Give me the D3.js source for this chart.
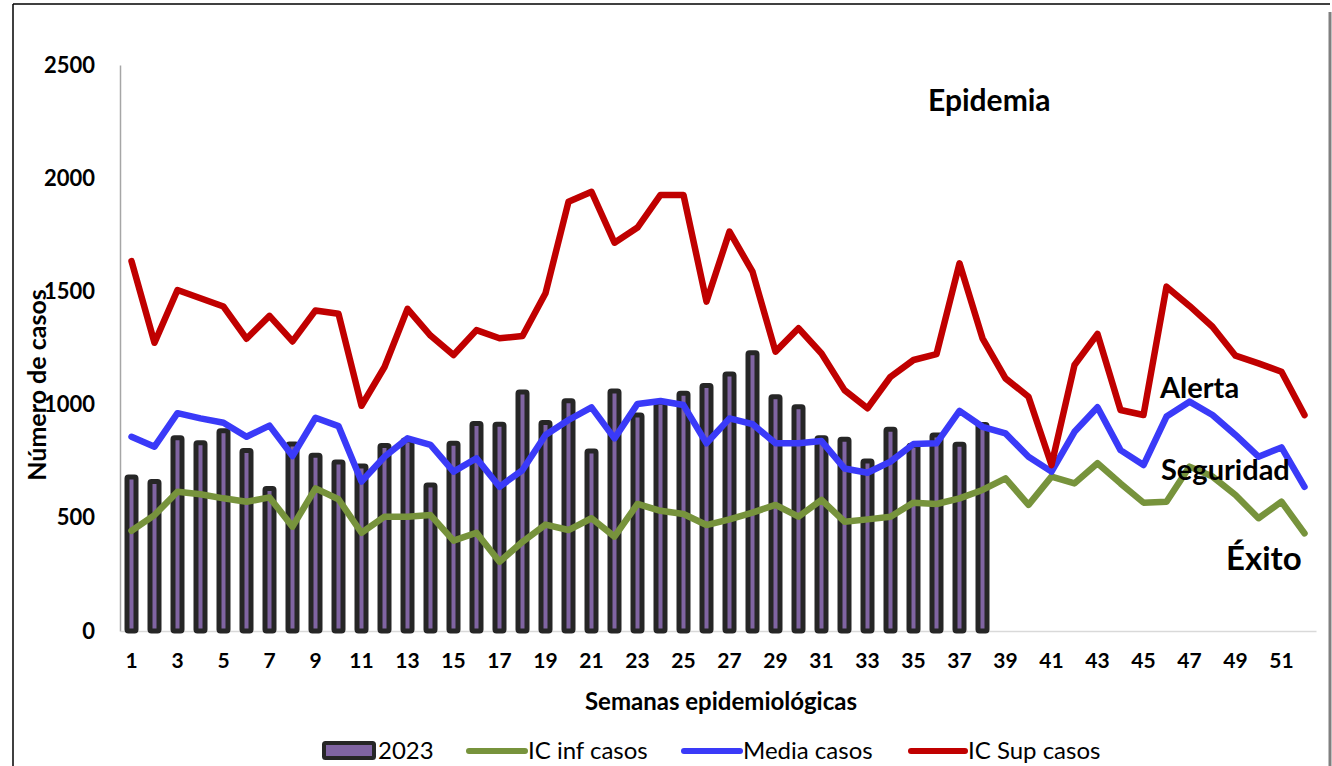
<!DOCTYPE html>
<html>
<head>
<meta charset="utf-8">
<script src="https://cdn.jsdelivr.net/npm/d3@7"></script>
<style>
  body { margin: 0; background: #fff; }
  svg { display: block; font-family: Lato, "Open Sans", sans-serif; }
</style>
</head>
<body>
<div id="chart"></div>
<script>
// Chart dimensions
const WIDTH = 1332, HEIGHT = 766;
const plot = {left: 120, right: 1316, top: 65, bottom: 631};

// Data
const weeks = d3.range(1, 53);
const cases2023 = [680, 660, 854, 832, 885, 797, 629, 826, 776, 746, 729, 819, 844, 645, 829, 917, 913, 1056, 921,
    1017, 795, 1060, 954, 1010, 1050, 1084, 1135, 1229, 1035, 991, 854, 847, 751, 891, 820, 866, 825, 912];
const icInf = [443, 512, 615, 604, 586, 571, 590, 461, 630, 582, 434, 505, 505, 512, 399, 434, 306, 394, 470,
    446, 498, 417, 561, 531, 517, 468, 493, 523, 557, 505, 579, 483, 493, 505, 567, 561, 586, 623,
    674, 557, 682, 652, 741, 652, 567, 571, 726, 682, 601, 498, 571, 431];
const media = [858, 814, 962, 939, 920, 858, 907, 773, 942, 905, 660, 770, 851, 822, 704, 763, 637, 711, 866,
    932, 988, 851, 1003, 1016, 998, 829, 939, 914, 829, 829, 839, 718, 699, 748, 826, 829, 972, 902,
    873, 770, 704, 880, 988, 799, 733, 947, 1013, 954, 866, 770, 811, 637];
const icSup = [1634, 1273, 1506, 1470, 1433, 1291, 1392, 1279, 1416, 1401, 995, 1166, 1423, 1305, 1219, 1329, 1293, 1303, 1492,
    1896, 1940, 1715, 1782, 1926, 1926, 1455, 1764, 1587, 1234, 1337, 1226, 1064, 984, 1123, 1197, 1223, 1624, 1293,
    1116, 1035, 733, 1175, 1312, 976, 954, 1521, 1436, 1344, 1216, 1182, 1145, 954];
const yTicks = [0, 500, 1000, 1500, 2000, 2500];

const lineSeries = [
    {name: "IC inf casos", values: icInf, color: "#77933C"},
    {name: "Media casos", values: media, color: "#3A3AF8"},
    {name: "IC Sup casos", values: icSup, color: "#C00000"}
];

const svg = d3.select("#chart").append("svg")
    .attr("width", WIDTH)
    .attr("height", HEIGHT);

// Outer frame
svg.append("line").attr("x1", 13).attr("x2", 1330).attr("y1", 4).attr("y2", 4)
    .attr("stroke", "#000").attr("stroke-width", 1.5);
svg.append("line").attr("x1", 13).attr("x2", 13).attr("y1", 4).attr("y2", HEIGHT)
    .attr("stroke", "#000").attr("stroke-width", 1.5);
svg.append("line").attr("x1", 1330).attr("x2", 1330).attr("y1", 12).attr("y2", HEIGHT)
    .attr("stroke", "#808080").attr("stroke-width", 3);

let x = d3.scaleBand()
    .domain(weeks)
    .range([plot.left, plot.right]);

let y = d3.scaleLinear()
    .domain([0, 2500])
    .range([plot.bottom, plot.top]);

// Y axis
let yAxis = svg.append("g")
    .attr("transform", `translate(${plot.left}, 0)`)
    .call(d3.axisLeft(y).tickValues(yTicks).tickFormat(d3.format("d")).tickSize(0).tickPadding(25));
yAxis.select(".domain").attr("stroke", "#A6A6A6").attr("stroke-width", 1.5);
yAxis.selectAll("text")
    .style("font-family", "Lato")
    .style("font-weight", "bold")
    .style("font-size", "22px")
    .attr("fill", "#000");

// X axis
let xAxis = svg.append("g")
    .attr("transform", `translate(0, ${plot.bottom})`)
    .call(d3.axisBottom(x).tickValues(weeks.filter(function(d) { return d % 2 == 1; })).tickSize(0).tickPadding(22));
xAxis.select(".domain").attr("stroke", "#D9D9D9").attr("stroke-width", 1.5);
xAxis.selectAll("text")
    .style("font-family", "Lato")
    .style("font-weight", "bold")
    .style("font-size", "21px")
    .attr("fill", "#000");

// Bars for 2023
svg.append("g").selectAll("rect")
    .data(cases2023)
    .enter()
    .append("rect")
    .attr("x", function(d, i) { return x(weeks[i]) + x.bandwidth() / 2 - 4.5; })
    .attr("y", function(d) { return y(d); })
    .attr("width", 9)
    .attr("height", function(d) { return y(0) - y(d); })
    .attr("rx", 1.5)
    .attr("fill", "#8064A2")
    .attr("stroke", "#262626")
    .attr("stroke-width", 5);

// Lines
let line = d3.line()
    .x(function(d, i) { return x(weeks[i]) + x.bandwidth() / 2; })
    .y(function(d) { return y(d); });

svg.append("g").selectAll("path")
    .data(lineSeries)
    .enter()
    .append("path")
    .attr("d", function(d) { return line(d.values); })
    .attr("fill", "none")
    .attr("stroke", function(d) { return d.color; })
    .attr("stroke-width", 6.5)
    .attr("stroke-linejoin", "round")
    .attr("stroke-linecap", "round");

// Axis titles
svg.append("text")
    .attr("transform", `translate(46, 385) rotate(-90)`)
    .style("text-anchor", "middle")
    .style("font-weight", "bold")
    .style("font-size", "25px")
    .text("Número de casos");

svg.append("text")
    .attr("x", 721)
    .attr("y", 710)
    .style("text-anchor", "middle")
    .style("font-weight", "bold")
    .style("font-size", "24px")
    .text("Semanas epidemiológicas");

// Zone labels
const zoneLabels = [
    {text: "Epidemia", x: 928, y: 111, size: 30},
    {text: "Alerta", x: 1160, y: 398, size: 29},
    {text: "Seguridad", x: 1161, y: 480, size: 29},
    {text: "Éxito", x: 1226, y: 570, size: 33}
];
svg.append("g").selectAll("text")
    .data(zoneLabels)
    .enter()
    .append("text")
    .attr("x", function(d) { return d.x; })
    .attr("y", function(d) { return d.y; })
    .style("font-weight", "bold")
    .style("font-size", function(d) { return d.size + "px"; })
    .text(function(d) { return d.text; });

// Legend
let legend = svg.append("g");
legend.append("rect")
    .attr("x", 324).attr("y", 743).attr("width", 50).attr("height", 15)
    .attr("fill", "#8064A2").attr("stroke", "#262626").attr("stroke-width", 4).attr("rx", 1.5);
legend.append("text").attr("x", 378).attr("y", 759)
    .style("font-size", "24px").text("2023");

const legendPos = [{x1: 469, x2: 525, tx: 528}, {x1: 684, x2: 740, tx: 743}, {x1: 911, x2: 965, tx: 968}];
lineSeries.forEach(function(s, i) {
    legend.append("line")
        .attr("x1", legendPos[i].x1).attr("x2", legendPos[i].x2)
        .attr("y1", 751).attr("y2", 751)
        .attr("stroke", s.color).attr("stroke-width", 6).attr("stroke-linecap", "round");
    legend.append("text").attr("x", legendPos[i].tx).attr("y", 759)
        .style("font-size", "24px").text(s.name);
});
</script>
</body>
</html>
